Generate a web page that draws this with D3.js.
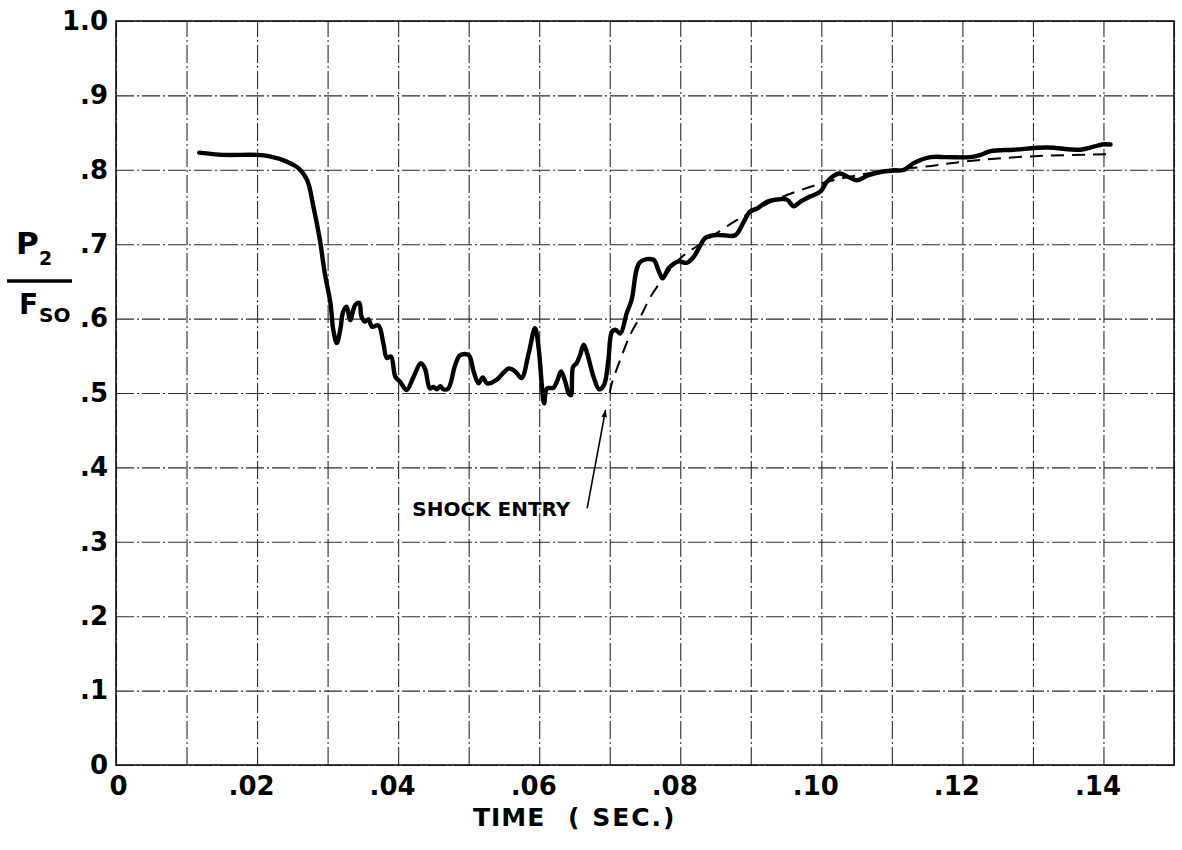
<!DOCTYPE html>
<html>
<head>
<meta charset="utf-8">
<script src="https://cdn.jsdelivr.net/npm/d3@7"></script>
<style>
  body { margin: 0; background: #fff; }
  svg { display: block; }
</style>
</head>
<body>
<script>

// measured trace, P2/Pso against time (sec)
var timeMeasured = [
  .0118, .0152, .0200, .0218, .0242, .0259, .0271, .0280, .0289, .0296,
  .0304, .0308, .0313, .0318, .0322, .0327, .0332, .0339, .0345, .0348,
  .0353, .0358, .0363, .0372, .0379, .0384, .0390, .0396, .0403, .0412,
  .0422, .0432, .0438, .0445, .0450, .0455, .0460, .0464, .0471, .0481,
  .0488, .0500, .0507, .0514, .0520, .0526, .0540, .0549, .0557, .0566,
  .0575, .0585, .0594, .0599, .0604, .0607, .0611, .0620, .0625, .0631,
  .0637, .0642, .0645, .0648, .0653, .0658, .0663, .0668, .0677, .0685,
  .0692, .0698, .0703, .0708, .0715, .0724, .0731, .0743, .0762, .0769,
  .0775, .0783, .0791, .0798, .0809, .0819, .0826, .0835, .0847, .0861,
  .0878, .0890, .0899, .0909, .0923, .0937, .0951, .0961, .0970, .0984,
  .0999, .1008, .1025, .1039, .1051, .1065, .1084, .1103, .1117, .1131,
  .1155, .1178, .1211, .1226, .1240, .1273, .1320, .1367, .1386, .1398,
  .1410
];
var ratioMeasured = [
  .823, .820, .820, .818, .811, .802, .786, .750, .706, .661,
  .621, .585, .567, .585, .609, .616, .598, .618, .621, .603,
  .596, .599, .589, .591, .567, .547, .549, .522, .515, .504,
  .522, .540, .533, .506, .508, .505, .509, .505, .506, .538,
  .551, .551, .529, .513, .521, .513, .518, .527, .533, .529,
  .520, .553, .587, .562, .508, .486, .506, .507, .515, .529,
  .515, .499, .497, .535, .540, .551, .565, .553, .522, .505,
  .511, .544, .582, .585, .580, .607, .625, .676, .679, .665,
  .654, .667, .674, .677, .675, .683, .694, .708, .712, .712,
  .712, .730, .744, .748, .757, .760, .760, .751, .757, .764,
  .771, .784, .795, .790, .786, .792, .797, .799, .800, .809,
  .817, .817, .817, .820, .825, .827, .830, .827, .831, .834,
  .834
];

// faired (dashed) curve after shock entry
var timeFaired  = [.0700, .0703, .0715, .0730, .0746, .0757, .0776, .0800, .0838, .0876,
                   .0899, .0941, .0994, .1027, .1098, .1145, .1202, .1296, .1414];
var ratioFaired = [.500, .513, .545, .580, .607, .628, .654, .681, .706, .730,
                   .742, .762, .780, .788, .800, .804, .811, .818, .821];

var xTickValues = [0, .02, .04, .06, .08, .10, .12, .14];
var xTickLabels = ["0", ".02", ".04", ".06", ".08", ".10", ".12", ".14"];
var yTickValues = [0, .1, .2, .3, .4, .5, .6, .7, .8, .9, 1.0];
var yTickLabels = ["0", ".1", ".2", ".3", ".4", ".5", ".6", ".7", ".8", ".9", "1.0"];

var W = 1182, H = 850;
var margin = {top: 21, right: 8, bottom: 85, left: 116};
var font = "'DejaVu Sans', sans-serif";

var svg = d3.select("body").append("svg")
    .attr("width", W)
    .attr("height", H);

var x = d3.scaleLinear().domain([0, 0.15]).range([margin.left, W - margin.right]);
var y = d3.scaleLinear().domain([0, 1]).range([H - margin.bottom, margin.top]);

// grid paper: every .01 sec and every .1 of ratio
var gridX = d3.range(0, 16).map(function(i) { return i / 100; });
var gridY = d3.range(0, 11).map(function(i) { return i / 10; });

var gx = svg.append("g")
    .attr("transform", "translate(0," + y(0) + ")")
    .call(d3.axisBottom(x).tickValues(gridX).tickSize(-(y(0) - y(1))).tickFormat(""));
var gy = svg.append("g")
    .attr("transform", "translate(" + x(0) + ",0)")
    .call(d3.axisLeft(y).tickValues(gridY).tickSize(-(x(0.15) - x(0))).tickFormat(""));
[gx, gy].forEach(function(g) {
  g.select(".domain").remove();
  g.selectAll(".tick line")
      .attr("stroke", "#2a2a2a")
      .attr("stroke-width", 1.1)
      .attr("stroke-dasharray", "18,3,2,3");
});

// frame
svg.append("rect")
    .attr("x", x(0)).attr("y", y(1))
    .attr("width", x(0.15) - x(0))
    .attr("height", y(0) - y(1))
    .attr("fill", "none")
    .attr("stroke", "#111")
    .attr("stroke-width", 1.6);

// tick labels
var xl = svg.append("g")
    .attr("transform", "translate(0," + y(0) + ")")
    .call(d3.axisBottom(x).tickValues(xTickValues).tickSize(0).tickPadding(12)
      .tickFormat(function(d, i) { return xTickLabels[i]; }));
var yl = svg.append("g")
    .attr("transform", "translate(" + x(0) + ",0)")
    .call(d3.axisLeft(y).tickValues(yTickValues).tickSize(0).tickPadding(8)
      .tickFormat(function(d, i) { return yTickLabels[i]; }));
[xl, yl].forEach(function(g) {
  g.select(".domain").remove();
  g.selectAll("text")
      .attr("font-family", font)
      .attr("font-size", 26)
      .attr("font-weight", "bold")
      .attr("fill", "#000");
});
xl.selectAll("text").attr("dx", function(d, i) { return xTickLabels[i][0] == "." ? -6 : 2; });

// curves
var measured = timeMeasured.map(function(t, i) { return [t, ratioMeasured[i]]; });
var faired = timeFaired.map(function(t, i) { return [t, ratioFaired[i]]; });

var line = d3.line()
    .x(function(d) { return x(d[0]); })
    .y(function(d) { return y(d[1]); })
    .curve(d3.curveCatmullRom.alpha(0.5));

svg.append("path")
    .datum(faired)
    .attr("d", line)
    .attr("fill", "none")
    .attr("stroke", "#000")
    .attr("stroke-width", 2)
    .attr("stroke-dasharray", "13,8");

svg.append("path")
    .datum(measured)
    .attr("d", line)
    .attr("fill", "none")
    .attr("stroke", "#000")
    .attr("stroke-width", 4.4)
    .attr("stroke-linejoin", "round")
    .attr("stroke-linecap", "round");

// shock entry note
svg.append("defs").append("marker")
    .attr("id", "head")
    .attr("viewBox", "0 0 10 10")
    .attr("refX", 9).attr("refY", 5)
    .attr("markerWidth", 5).attr("markerHeight", 5)
    .attr("orient", "auto")
  .append("path")
    .attr("d", "M0,1.5 L10,5 L0,8.5 Z")
    .attr("fill", "#000");

svg.append("line")
    .attr("x1", x(0.0668)).attr("y1", y(0.345))
    .attr("x2", x(0.0694)).attr("y2", y(0.477))
    .attr("stroke", "#000")
    .attr("stroke-width", 1.6)
    .attr("marker-end", "url(#head)");

svg.append("text")
    .attr("x", x(0.042)).attr("y", y(0.335))
    .attr("font-family", font)
    .attr("font-size", 20)
    .attr("font-weight", "bold")
    .text("SHOCK ENTRY");

// axis titles
var xt = svg.append("g")
    .attr("font-family", font)
    .attr("font-size", 25)
    .attr("font-weight", "bold");
xt.append("text").attr("x", 473).attr("y", 826).attr("letter-spacing", 1).text("TIME");
xt.append("text").attr("x", 568).attr("y", 826).attr("letter-spacing", 2)
    .attr("xml:space", "preserve").text("( SEC.)");

var yt = svg.append("g")
    .attr("font-family", font)
    .attr("font-weight", "bold");
yt.append("text").attr("x", 16).attr("y", 254).attr("font-size", 31).text("P");
yt.append("text").attr("x", 39).attr("y", 265).attr("font-size", 19).text("2");
yt.append("line")
    .attr("x1", 7).attr("x2", 72).attr("y1", 281).attr("y2", 281)
    .attr("stroke", "#000").attr("stroke-width", 3.5);
yt.append("text").attr("x", 19).attr("y", 314).attr("font-size", 28).text("F");
yt.append("text").attr("x", 39).attr("y", 322).attr("font-size", 20).text("SO");

</script>
</body>
</html>
